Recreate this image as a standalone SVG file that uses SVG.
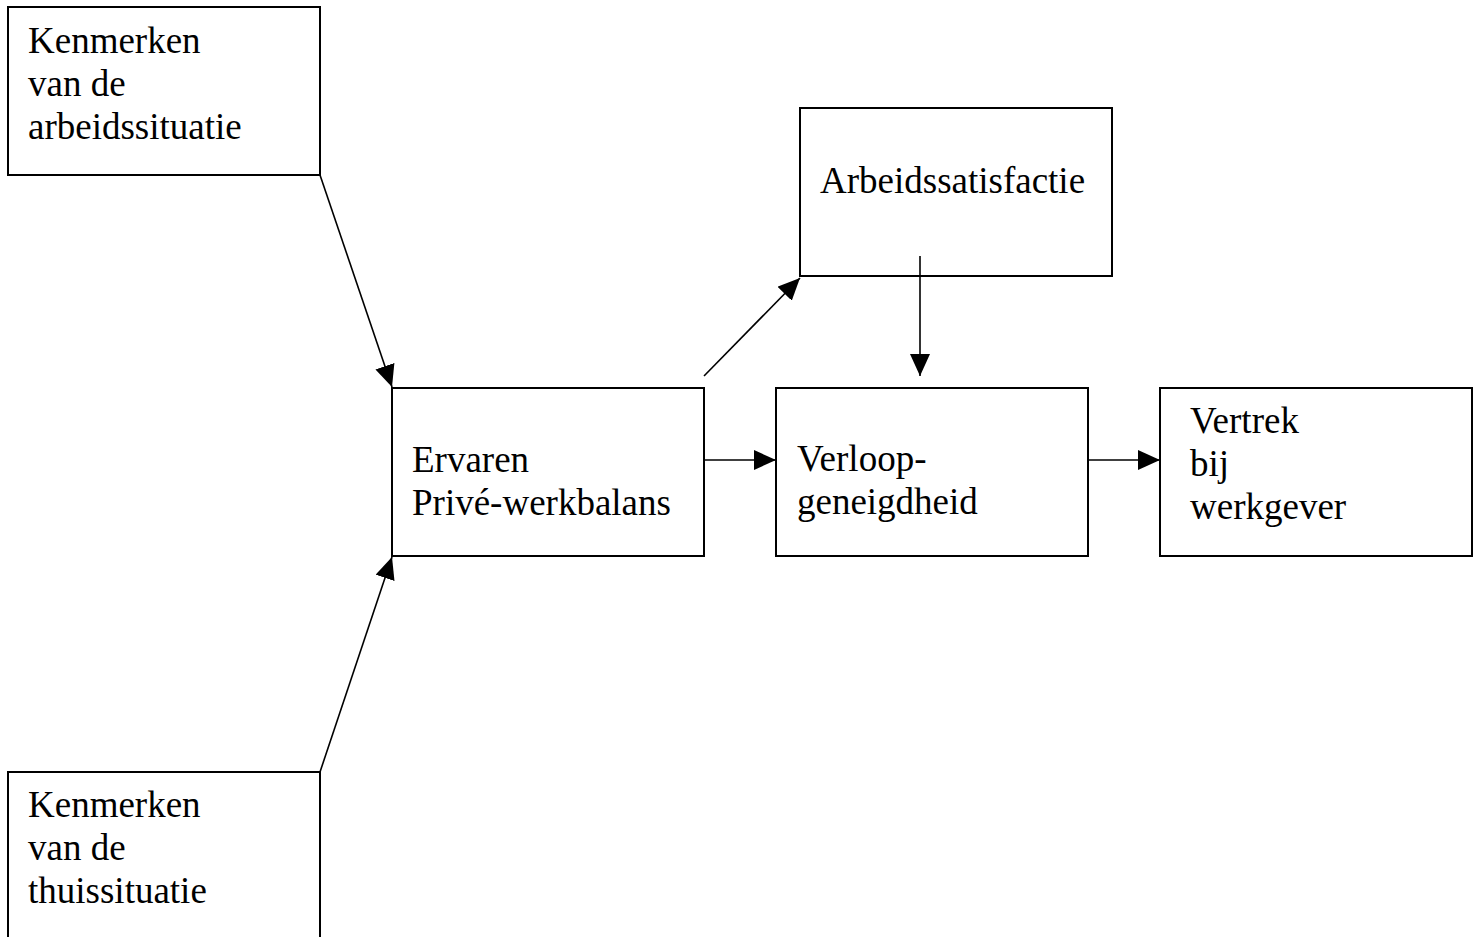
<svg xmlns="http://www.w3.org/2000/svg" width="1480" height="937" viewBox="0 0 1480 937">
<style>
.box{fill:#fff;stroke:#000;stroke-width:2}
.t{font-family:"Liberation Serif","Times New Roman",serif;font-size:37px;fill:#000}
.c{stroke:#000;stroke-width:1.6;fill:none}
</style>
<defs>
<marker id="ah" markerUnits="userSpaceOnUse" markerWidth="22" markerHeight="20" viewBox="0 0 22 20" refX="22" refY="10" orient="auto">
<path d="M0,0 L22,10 L0,20 Z" fill="#000"/>
</marker>
</defs>
<rect width="1480" height="937" fill="#fff"/>
<g id="arbeidssituatie">
<rect class="box" x="8" y="7" width="312" height="168"/>
<text class="t" x="28" y="53">Kenmerken</text>
<text class="t" x="28" y="96">van de</text>
<text class="t" x="28" y="139">arbeidssituatie</text>
</g>
<g id="thuissituatie">
<rect class="box" x="8" y="772" width="312" height="180"/>
<text class="t" x="28" y="817">Kenmerken</text>
<text class="t" x="28" y="860">van de</text>
<text class="t" x="28" y="903">thuissituatie</text>
</g>
<g id="balans">
<rect class="box" x="392" y="388" width="312" height="168"/>
<text class="t" x="412" y="472">Ervaren</text>
<text class="t" x="412" y="515">Privé-werkbalans</text>
</g>
<g id="satisfactie">
<rect class="box" x="800" y="108" width="312" height="168"/>
<text class="t" x="820" y="193">Arbeidssatisfactie</text>
</g>
<g id="verloop">
<rect class="box" x="776" y="388" width="312" height="168"/>
<text class="t" x="797" y="471">Verloop-</text>
<text class="t" x="797" y="514">geneigdheid</text>
</g>
<g id="vertrek">
<rect class="box" x="1160" y="388" width="312" height="168"/>
<text class="t" x="1190" y="433">Vertrek</text>
<text class="t" x="1190" y="476">bij</text>
<text class="t" x="1190" y="519">werkgever</text>
</g>
<g id="connectors">
<line class="c" x1="320" y1="175" x2="392" y2="387" marker-end="url(#ah)"/>
<line class="c" x1="320" y1="772" x2="392" y2="557" marker-end="url(#ah)"/>
<line class="c" x1="704" y1="376" x2="800" y2="278" marker-end="url(#ah)"/>
<line class="c" x1="920" y1="256" x2="920" y2="376" marker-end="url(#ah)"/>
<line class="c" x1="704" y1="460" x2="776" y2="460" marker-end="url(#ah)"/>
<line class="c" x1="1088" y1="460" x2="1160" y2="460" marker-end="url(#ah)"/>
</g>
</svg>
